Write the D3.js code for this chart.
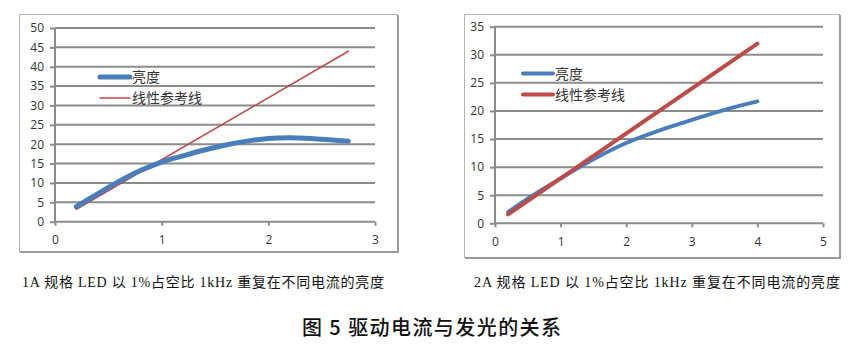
<!DOCTYPE html>
<html>
<head>
<meta charset="utf-8">
<script src="https://cdn.jsdelivr.net/npm/d3@7"></script>
<style>
  html, body { margin: 0; padding: 0; background: #fff; }
  svg { display: block; }
</style>
</head>
<body>
<svg id="chart" width="861" height="348"></svg>
<script>
// ---- Data ----
const seriesNames = ["亮度", "线性参考线"];

// Left chart: 1A LED
const leftXTicks = [0, 1, 2, 3];
const leftYTicks = [0, 5, 10, 15, 20, 25, 30, 35, 40, 45, 50];
const leftCurrent = [0.2, 0.4, 0.6, 0.8, 1.0, 1.2, 1.4, 1.6, 1.8, 2.0, 2.2, 2.4, 2.6, 2.75];
const leftBrightness = [3.9, 7.2, 10.4, 13.2, 15.4, 17.0, 18.5, 19.8, 20.8, 21.5, 21.7, 21.5, 21.1, 20.8];
const leftRefCurrent = [0.2, 2.75];
const leftRefValue = [3.2, 44];

// Right chart: 2A LED
const rightXTicks = [0, 1, 2, 3, 4, 5];
const rightYTicks = [0, 5, 10, 15, 20, 25, 30, 35];
const rightCurrent = [0.2, 0.5, 1.0, 1.5, 2.0, 2.5, 3.0, 3.5, 4.0];
const rightBrightness = [2.0, 4.4, 8.0, 11.4, 14.3, 16.5, 18.4, 20.2, 21.7];
const rightRefCurrent = [0.2, 4.0];
const rightRefValue = [1.6, 32];

const captions = [
  "1A 规格 LED 以 1%占空比 1kHz 重复在不同电流的亮度",
  "2A 规格 LED 以 1%占空比 1kHz 重复在不同电流的亮度"
];
const figureTitle = "图 5  驱动电流与发光的关系";

// ---- Drawing ----
const svg = d3.select("#chart");
const BLUE = "#4a7ebb", RED = "#be4b48", GRID = "#8c8c8c";
const tickFont = "'Open Sans', 'Liberation Sans', sans-serif";
const cjkFont = "'Noto Sans CJK SC', sans-serif";

function drawChart(cfg) {
  const g = svg.append("g");
  // frame
  g.append("rect")
    .attr("x", cfg.frame[0] + 0.5).attr("y", cfg.frame[1] + 0.5)
    .attr("width", cfg.frame[2] - cfg.frame[0]).attr("height", cfg.frame[3] - cfg.frame[1])
    .attr("fill", "none").attr("stroke", "#b4b4b4").attr("stroke-width", 1);
  g.append("path")
    .attr("d", `M${cfg.frame[2] + 1},${cfg.frame[1] + 1}V${cfg.frame[3] + 1}H${cfg.frame[0] + 1}`)
    .attr("fill", "none").attr("stroke", "#9a9a9a").attr("stroke-width", 2);

  const x = d3.scaleLinear().domain(cfg.xDomain).range(cfg.xRange);
  const y = d3.scaleLinear().domain(cfg.yDomain).range(cfg.yRange);

  // gridlines
  g.append("g").selectAll("line").data(cfg.yTicks.filter(d => d !== 0)).join("line")
    .attr("x1", x(cfg.xDomain[0])).attr("x2", x(cfg.xDomain[1]))
    .attr("y1", d => y(d)).attr("y2", d => y(d))
    .attr("stroke", GRID).attr("stroke-width", 2);

  // y axis
  const yAxis = d3.axisLeft(y).tickValues(cfg.yTicks).tickSize(5).tickPadding(6).tickFormat(d3.format("d"));
  const ya = g.append("g").attr("transform", `translate(${x(cfg.xDomain[0])},0)`).call(yAxis);
  // x axis
  const xAxis = d3.axisBottom(x).tickValues(cfg.xTicks).tickSize(4).tickPadding(10).tickFormat(d3.format("d"));
  const xa = g.append("g").attr("transform", `translate(0,${y(0)})`).call(xAxis);
  [ya, xa].forEach(a => {
    a.select(".domain").attr("stroke", GRID).attr("stroke-width", 2);
    a.selectAll(".tick line").attr("stroke", GRID).attr("stroke-width", 2);
    a.selectAll(".tick text").attr("fill", "#333").attr("font-size", 12).attr("font-family", tickFont);
  });
  xa.select(".domain").attr("d", `M${x(cfg.xDomain[0])},0H${x(cfg.xDomain[1])}`);
  ya.select(".domain").attr("d", `M0,${y(cfg.yDomain[0])}V${y(cfg.yDomain[1])}`);

  // series
  const line = d3.line().x(d => x(d[0])).y(d => y(d[1]));
  const refData = cfg.refX.map((v, i) => [v, cfg.refY[i]]);
  const briData = cfg.briX.map((v, i) => [v, cfg.briY[i]]);
  const smooth = d3.line().x(d => x(d[0])).y(d => y(d[1])).curve(d3.curveCatmullRom.alpha(0.5));

  const drawRef = () => g.append("path").datum(refData).attr("d", line)
      .attr("fill", "none").attr("stroke", RED).attr("stroke-width", cfg.redW).attr("stroke-linecap", "round");
  const drawBri = () => g.append("path").datum(briData).attr("d", smooth)
      .attr("fill", "none").attr("stroke", BLUE).attr("stroke-width", cfg.blueW).attr("stroke-linecap", "round");
  if (cfg.redOnTop) { drawBri(); drawRef(); } else { drawRef(); drawBri(); }

  // legend
  const lg = g.append("g");
  const items = [
    { name: seriesNames[0], color: BLUE, w: cfg.blueW, y: cfg.legendY[0] },
    { name: seriesNames[1], color: RED, w: cfg.redW, y: cfg.legendY[1] }
  ];
  items.forEach(it => {
    lg.append("line").attr("x1", cfg.legendX[0]).attr("x2", cfg.legendX[1])
      .attr("y1", it.y).attr("y2", it.y)
      .attr("stroke", it.color).attr("stroke-width", it.w).attr("stroke-linecap", "round");
    lg.append("text").attr("x", cfg.legendX[1] + 2).attr("y", it.y)
      .attr("dy", "0.36em").attr("font-size", 14).attr("fill", "#333")
      .attr("font-family", cjkFont).text(it.name);
  });

  // caption
  g.append("text").attr("x", cfg.caption[0]).attr("y", cfg.caption[1])
    .attr("font-size", 14).attr("fill", "#111")
    .attr("font-family", "'Liberation Serif', 'Noto Sans CJK SC', serif")
    .attr("textLength", cfg.caption[2]).attr("lengthAdjust", "spacing")
    .text(cfg.captionText);
}

drawChart({
  frame: [19, 14, 397, 251],
  xDomain: [0, 3], xRange: [55, 375],
  yDomain: [0, 50], yRange: [221.7, 28],
  xTicks: leftXTicks, yTicks: leftYTicks,
  briX: leftCurrent, briY: leftBrightness,
  refX: leftRefCurrent, refY: leftRefValue,
  blueW: 5, redW: 1.6, redOnTop: false,
  legendX: [100, 130], legendY: [77, 98],
  caption: [22, 287, 362], captionText: captions[0]
});

drawChart({
  frame: [464, 14, 839, 257],
  xDomain: [0, 5], xRange: [495, 823],
  yDomain: [0, 35], yRange: [223.3, 26.7],
  xTicks: rightXTicks, yTicks: rightYTicks,
  briX: rightCurrent, briY: rightBrightness,
  refX: rightRefCurrent, refY: rightRefValue,
  blueW: 4, redW: 4, redOnTop: true,
  legendX: [523, 553], legendY: [73.5, 94.5],
  caption: [474, 287, 366], captionText: captions[1]
});

// figure title
svg.append("text").attr("x", 302).attr("y", 335)
  .attr("font-size", 20).attr("font-weight", 500).attr("fill", "#111")
  .attr("font-family", cjkFont)
  .attr("textLength", 259).attr("lengthAdjust", "spacing")
  .text(figureTitle);
</script>
</body>
</html>
